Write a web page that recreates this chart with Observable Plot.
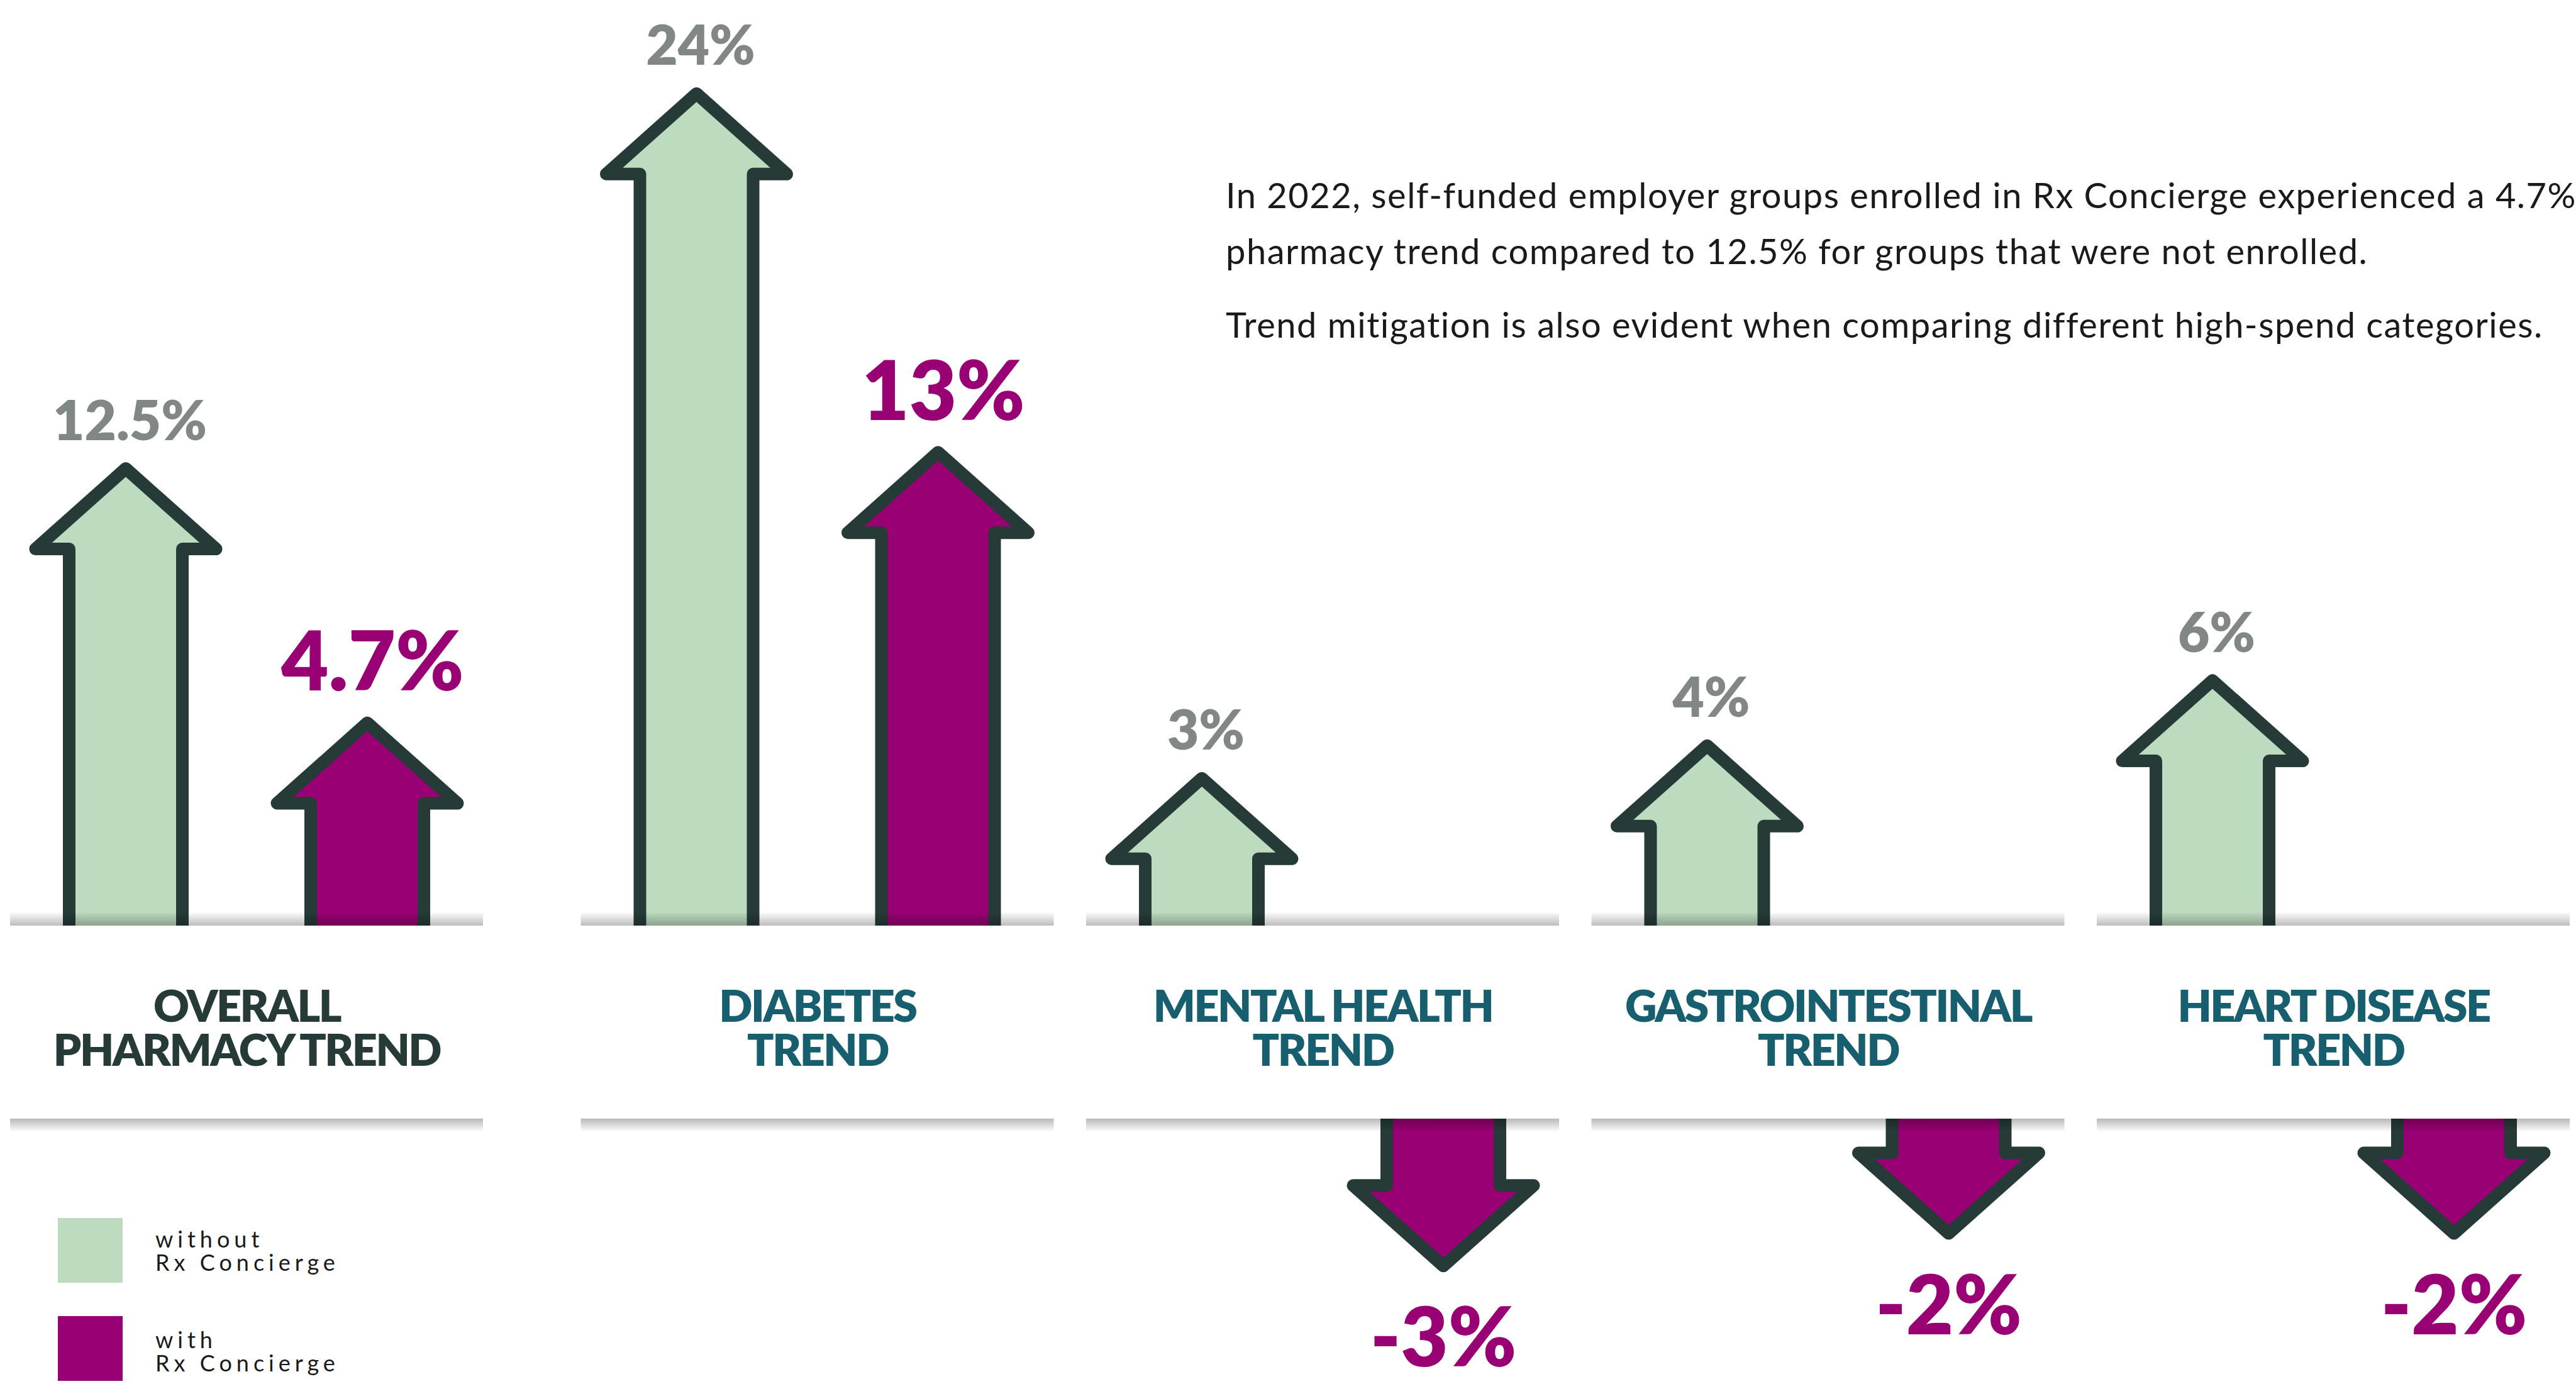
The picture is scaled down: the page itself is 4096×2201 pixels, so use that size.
<!DOCTYPE html>
<html><head><meta charset="utf-8">
<script src="https://cdn.jsdelivr.net/npm/d3@7"></script>
<script src="https://cdn.jsdelivr.net/npm/@observablehq/plot@0.6"></script>
<style>
html,body{margin:0;padding:0;background:#fff;overflow:hidden}
#wrap{position:relative;width:4096px;height:2201px;overflow:hidden;background:#fff}
#chart{position:absolute;left:0;top:0}
.para{position:absolute;left:1949px;font-family:Lato,sans-serif;font-weight:400;font-size:56px;letter-spacing:1.5px;line-height:89px;color:#1a1a1a;white-space:nowrap}
.sw{position:absolute;left:92px;width:103px;height:103px}
.lg{position:absolute;left:247px;font-family:Lato,sans-serif;font-weight:400;font-size:36px;letter-spacing:7px;line-height:37px;color:#1a1a1a;white-space:pre}
</style></head><body>
<div id="wrap"><div id="chart"></div></div>
<script>
// ---- data ----
const categories = ["OVERALL\nPHARMACY TREND", "DIABETES\nTREND", "MENTAL HEALTH\nTREND", "GASTROINTESTINAL\nTREND", "HEART DISEASE\nTREND"];
const withoutRx = [12.5, 24, 3, 4, 6];
const withRx = [4.7, 13, -3, -2, -2];
const seriesLabels = ["without\nRx Concierge", "with\nRx Concierge"];
const notes = [
  "In 2022, self-funded employer groups enrolled in Rx Concierge experienced a 4.7%",
  "pharmacy trend compared to 12.5% for groups that were not enrolled.",
  "Trend mitigation is also evident when comparing different high-spend categories."
];

// ---- styles ----
const GREEN = "#bddbbf", PURPLE = "#990073", OUTLINE = "#263b38", GRAY = "#808785", TEAL = "#175e6f";
const TOP = 1472, BOT = 1779, OFF = 192, HALF = 376;
const fmt = v => `${v}%`;

function arrowPath(cx, base, tip, dir) {
  const ws = 90, wh = 143.5, hh = 128, sw2 = 10;
  const t = tip - dir * sw2;
  const h = t - dir * hh;
  return `M${cx - ws},${base}V${h}H${cx - wh}L${cx},${t}L${cx + wh},${h}H${cx + ws}V${base}`;
}
function rows() {
  return [...withoutRx.map((v, i) => ({i, v, s: 0})), ...withRx.map((v, i) => ({i, v, s: 1}))];
}
function arrowsMark(index, {x, y}) {
  const g = d3.create("svg:g");
  for (const r of rows()) {
    const cx = x(r.i) + (r.s ? OFF : -OFF);
    const len = TOP - y(Math.abs(r.v));
    const up = r.v >= 0;
    const base = up ? TOP : BOT;
    const tip = up ? TOP - len : BOT + len;
    g.append("path").attr("d", arrowPath(cx, base, tip, up ? -1 : 1))
      .attr("fill", r.s ? PURPLE : GREEN).attr("stroke", OUTLINE).attr("stroke-width", 20)
      .attr("stroke-linejoin", "round").attr("stroke-linecap", "butt");
  }
  return g.node();
}
function bandsMark(index, {x}) {
  const g = d3.create("svg:g");
  const defs = g.append("defs");
  const gt = defs.append("linearGradient").attr("id", "gTop").attr("x1", 0).attr("x2", 0).attr("y1", 0).attr("y2", 1);
  gt.append("stop").attr("offset", 0).attr("stop-color", "#000").attr("stop-opacity", 0.03);
  gt.append("stop").attr("offset", 1).attr("stop-color", "#000").attr("stop-opacity", 0.26);
  const gb = defs.append("linearGradient").attr("id", "gBot").attr("x1", 0).attr("x2", 0).attr("y1", 0).attr("y2", 1);
  gb.append("stop").attr("offset", 0).attr("stop-color", "#000").attr("stop-opacity", 0.28);
  gb.append("stop").attr("offset", 1).attr("stop-color", "#000").attr("stop-opacity", 0);
  categories.forEach((c, i) => {
    g.append("rect").attr("x", x(i) - HALF).attr("width", 2 * HALF).attr("y", TOP - 20).attr("height", 20).attr("fill", "url(#gTop)");
    g.append("rect").attr("x", x(i) - HALF).attr("width", 2 * HALF).attr("y", BOT).attr("height", 21).attr("fill", "url(#gBot)");
  });
  return g.node();
}
function downLabelsMark(index, {x, y}) {
  const g = d3.create("svg:g").attr("font-family", "Lato").attr("font-weight", 800).attr("font-size", 130)
    .attr("fill", PURPLE).attr("text-anchor", "middle");
  withRx.forEach((v, i) => {
    if (v >= 0) return;
    const len = TOP - y(Math.abs(v));
    g.append("text").attr("x", x(i) + OFF).attr("y", BOT + len + 150).text(fmt(v));
  });
  return g.node();
}

const chart = Plot.plot({
  width: 4096, height: 2201, margin: 0,
  style: {background: "transparent", overflow: "visible"},
  x: {type: "linear", domain: [0, 1, 4], range: [392, 1299.5, 3710], axis: null},
  y: {type: "linear", domain: [0, 24], range: [1383.2, 138.8], axis: null},
  marks: [
    arrowsMark,
    bandsMark,
    Plot.text(withoutRx, {x: (d, i) => i, y: d => d, text: fmt, dx: -OFF + 6, dy: -36, lineAnchor: "bottom",
      fontSize: 87, fontWeight: 800, fontFamily: "Lato", fill: GRAY}),
    Plot.text(withRx, {filter: d => d > 0, x: (d, i) => i, y: d => d, text: fmt, dx: OFF + 8, dy: -42, lineAnchor: "bottom",
      fontSize: 130, fontWeight: 800, fontFamily: "Lato", fill: PURPLE}),
    downLabelsMark,
    Plot.text(categories, {filter: (d, i) => i === 0, x: (d, i) => i, text: d => d, frameAnchor: "top", dy: 1694,
      lineAnchor: "bottom", lineHeight: 1, fontSize: 70, fontWeight: 800, fontFamily: "Lato", fill: OUTLINE}),
    Plot.text(categories, {filter: (d, i) => i > 0, x: (d, i) => i, text: d => d, frameAnchor: "top", dy: 1694,
      lineAnchor: "bottom", lineHeight: 1, fontSize: 70, fontWeight: 800, fontFamily: "Lato", fill: TEAL})
  ]
});
chart.querySelectorAll('g[font-size="70"]').forEach(g => g.setAttribute("letter-spacing", "-2.5"));
document.getElementById("chart").appendChild(chart);

// ---- notes ----
const wrap = document.getElementById("wrap");
const p1 = document.createElement("div");
p1.className = "para"; p1.style.top = "265px";
p1.appendChild(document.createTextNode(notes[0]));
p1.appendChild(document.createElement("br"));
p1.appendChild(document.createTextNode(notes[1]));
wrap.appendChild(p1);
const p2 = document.createElement("div");
p2.className = "para"; p2.style.top = "471px";
p2.textContent = notes[2];
wrap.appendChild(p2);

// ---- legend ----
[GREEN, PURPLE].forEach((c, k) => {
  const sw = document.createElement("div");
  sw.className = "sw"; sw.style.background = c; sw.style.top = (k ? 2093 : 1937) + "px";
  wrap.appendChild(sw);
  const t = document.createElement("div");
  t.className = "lg"; t.style.top = (k ? 2112 : 1952) + "px";
  t.textContent = seriesLabels[k];
  wrap.appendChild(t);
});
</script>
</body></html>
